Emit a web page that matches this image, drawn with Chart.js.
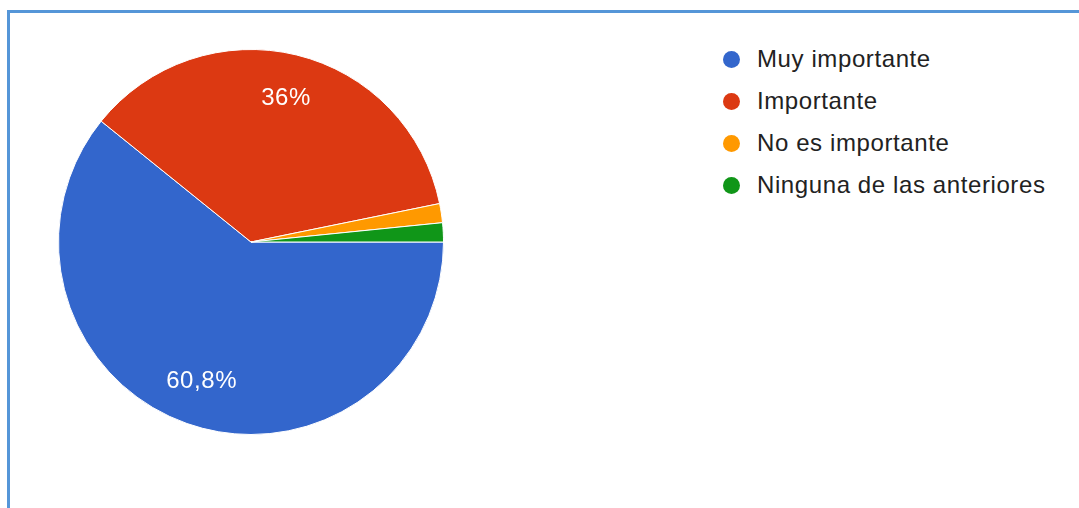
<!DOCTYPE html>
<html>
<head>
<meta charset="utf-8">
<script src="https://cdn.jsdelivr.net/npm/chart.js@4/dist/chart.umd.min.js"></script>
<style>
    body { margin: 0; background: #fff; width: 1079px; height: 508px; overflow: hidden; position: relative; font-family: "Liberation Sans", Arial, sans-serif; }
    .frame { position: absolute; left: 7px; top: 10px; width: 1100px; height: 520px; border-top: 3px solid #5596d8; border-left: 3px solid #5596d8; }
    .pie-box { position: absolute; left: 58px; top: 47px; width: 386px; height: 390px; }
    .legend { position: absolute; left: 723px; top: 38px; margin: 0; padding: 0; list-style: none; }
    .legend li { height: 42px; display: flex; align-items: center; font-size: 24px; letter-spacing: 0.6px; color: #222; }
    .legend .dot { width: 17px; height: 17px; border-radius: 50%; margin-right: 17px; }
</style>
</head>
<body>
<div class="frame"></div>
<div class="pie-box"><canvas id="pieChart"></canvas></div>
<ul class="legend" id="legend"></ul>
<script>
const categories = ['Muy importante', 'Importante', 'No es importante', 'Ninguna de las anteriores'];
const percentages = [60.8, 36, 1.6, 1.6];
const sliceColors = ['#3366cc', '#dc3912', '#ff9900', '#109618'];

function formatPercent(value) {
    return String(value).replace('.', ',') + '%';
}

// etiquetas dentro de las porciones, como en Google Forms
const sliceLabels = {
    id: 'sliceLabels',
    afterDatasetsDraw(chart) {
        const { ctx } = chart;
        const meta = chart.getDatasetMeta(0);
        const data = chart.data.datasets[0].data;
        const total = data.reduce((a, b) => a + b, 0);
        ctx.save();
        ctx.fillStyle = '#ffffff';
        ctx.font = '24px "Liberation Sans", Arial, sans-serif';
        ctx.letterSpacing = '0.6px';
        ctx.textAlign = 'center';
        ctx.textBaseline = 'middle';
        meta.data.forEach((arc, i) => {
            if (data[i] / total < 0.05) return;
            const mid = (arc.startAngle + arc.endAngle) / 2;
            const r = arc.outerRadius * 0.77;
            ctx.fillText(formatPercent(data[i]), arc.x + Math.cos(mid) * r, arc.y + Math.sin(mid) * r);
        });
        ctx.restore();
    }
};

new Chart(document.getElementById('pieChart'), {
    type: 'pie',
    data: {
        labels: categories,
        datasets: [{
            data: percentages,
            backgroundColor: sliceColors,
            borderColor: '#ffffff',
            borderWidth: 1
        }]
    },
    options: {
        responsive: true,
        maintainAspectRatio: false,
        animation: false,
        rotation: 90,
        layout: { padding: 0 },
        plugins: {
            legend: { display: false },
            tooltip: { enabled: false }
        }
    },
    plugins: [sliceLabels]
});

const legend = document.getElementById('legend');
categories.forEach((name, i) => {
    const li = document.createElement('li');
    li.innerHTML = `<span class="dot" style="background:${sliceColors[i]}"></span>${name}`;
    legend.appendChild(li);
});
</script>
</body>
</html>
